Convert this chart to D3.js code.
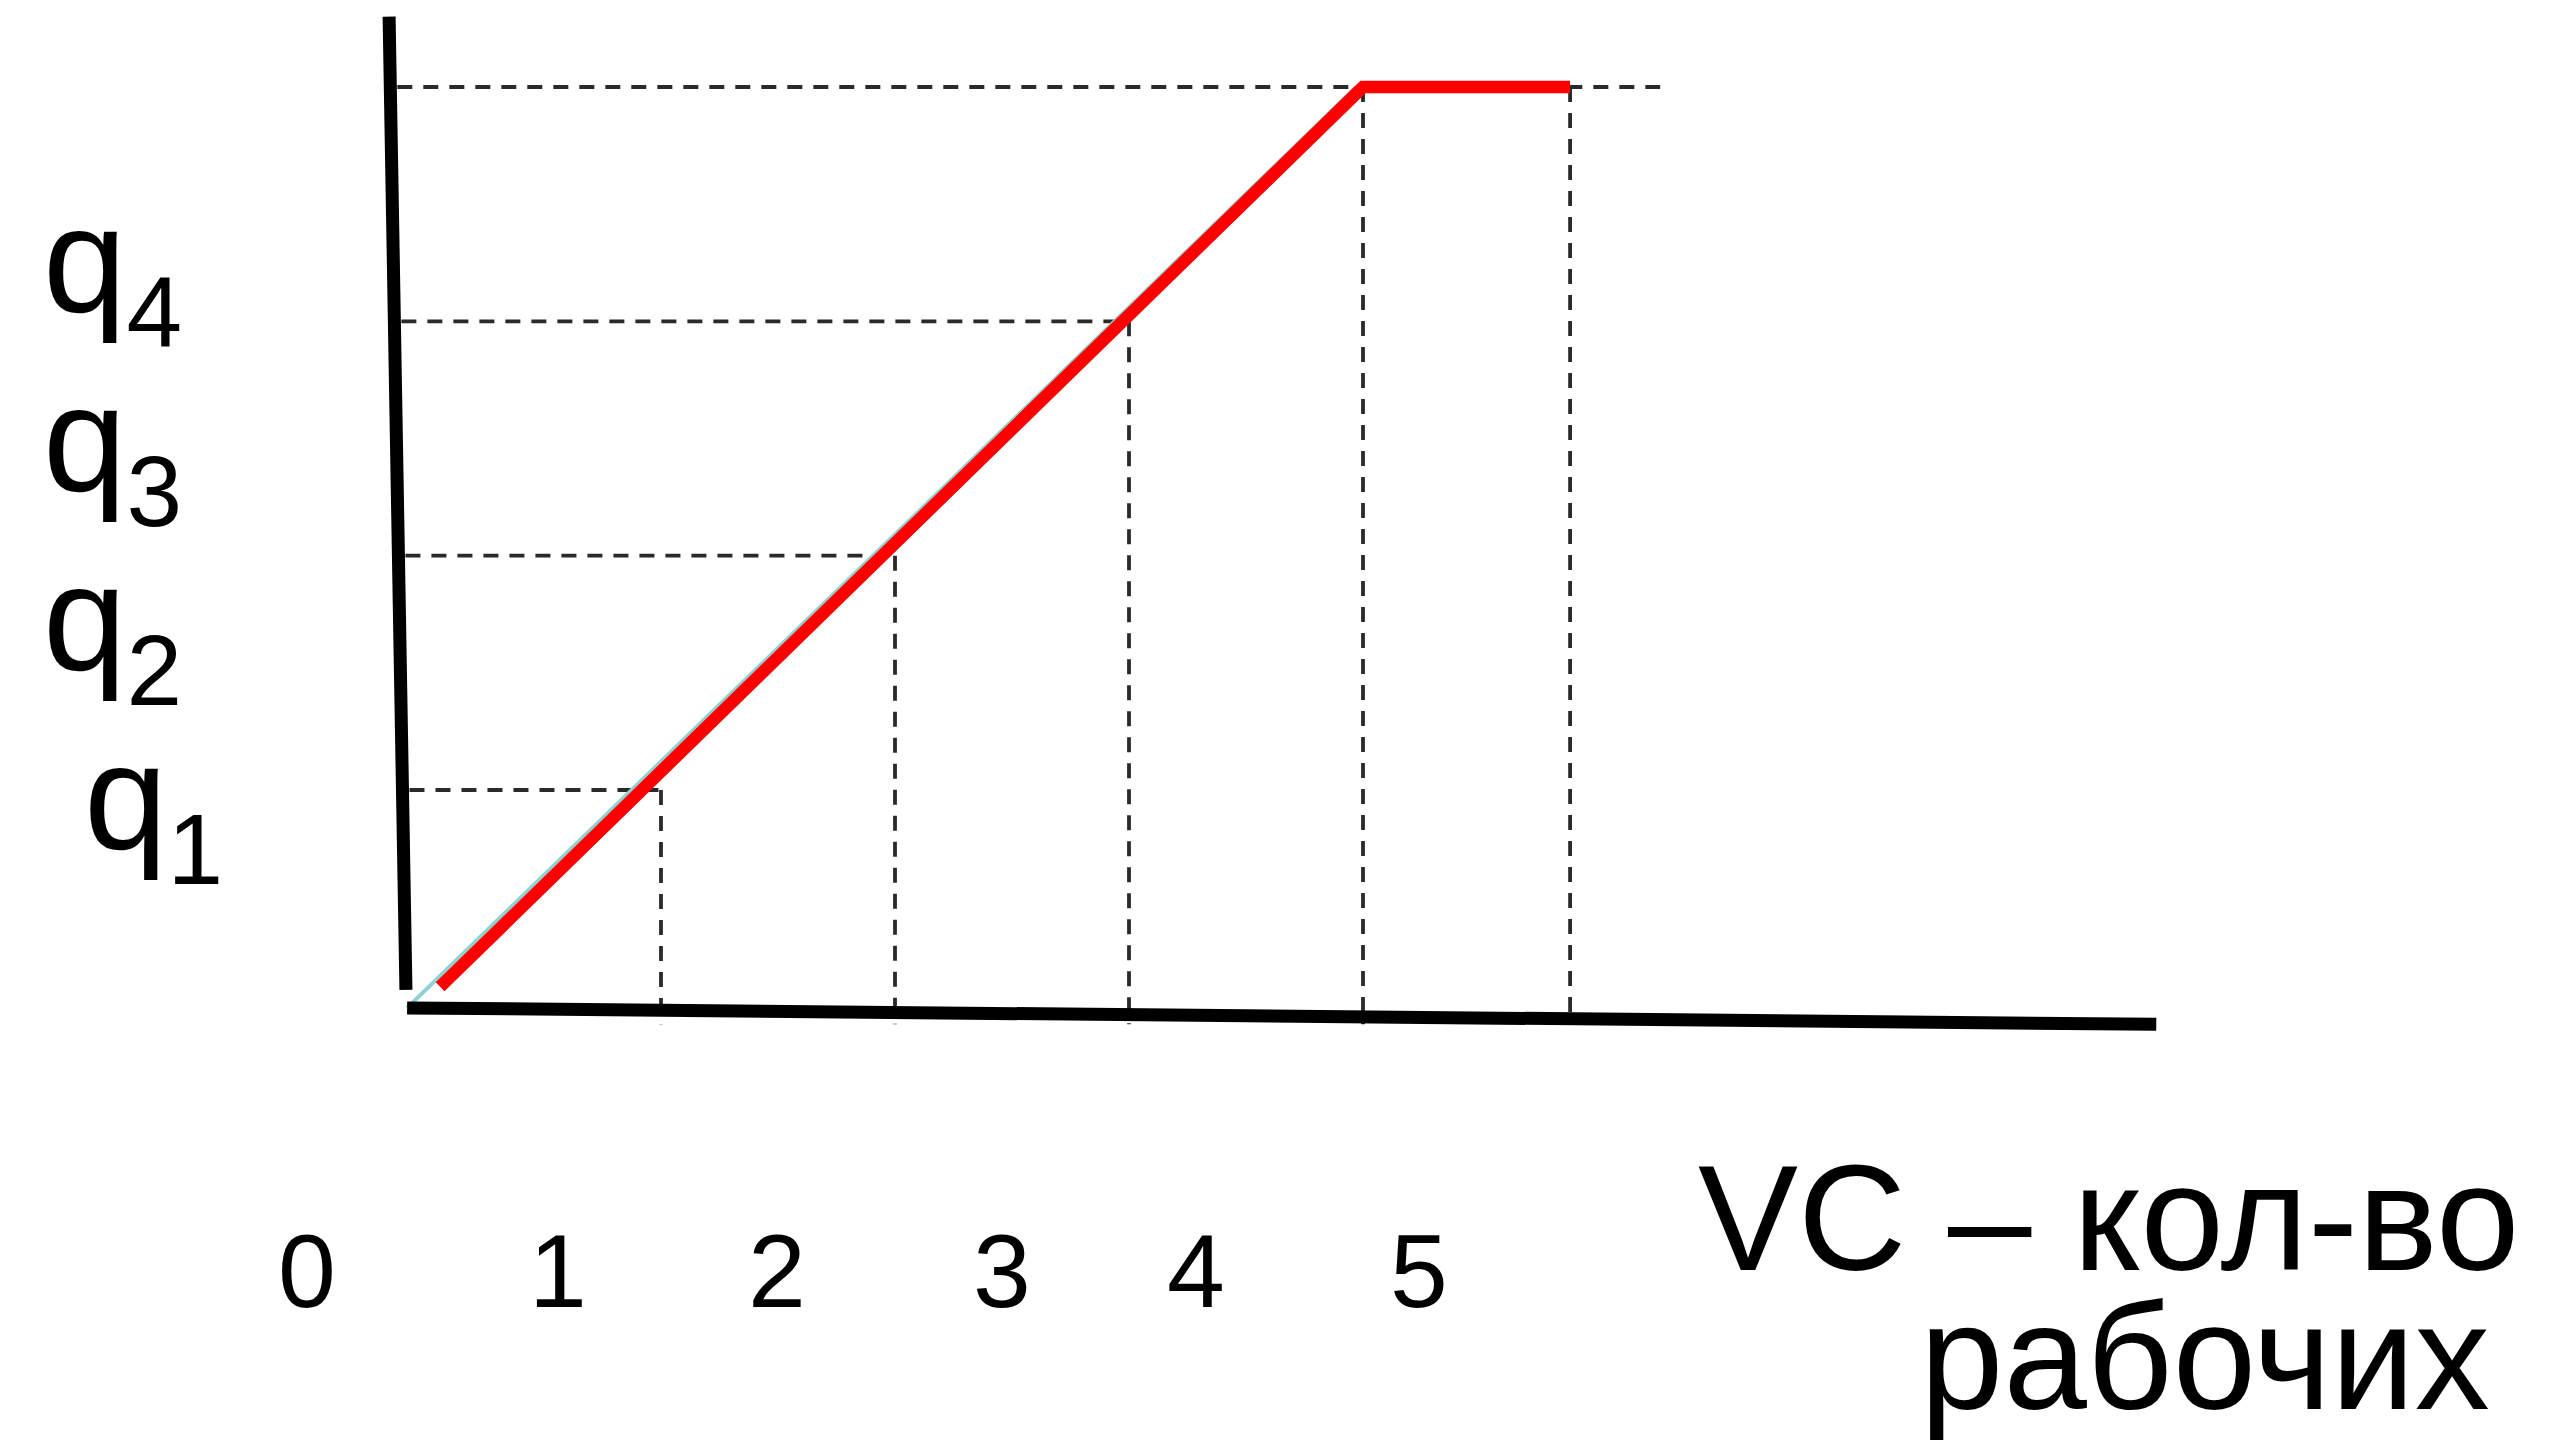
<!DOCTYPE html>
<html>
<head>
<meta charset="utf-8">
<script src="https://cdn.jsdelivr.net/npm/d3@7/dist/d3.min.js"></script>
<style>
  html, body { margin: 0; padding: 0; background: #ffffff; }
  svg { display: block; }
  text { font-family: "Liberation Sans", Arial, sans-serif; fill: #000; }
</style>
</head>
<body>
<div id="chart"></div>
<script>
// ---------------- DATA ----------------
const workerTicks = ["0", "1", "2", "3", "4", "5"];          // x tick labels
const outputLabels = ["1", "2", "3", "4"];                    // q subscripts
const outputLevels = [1, 2, 3, 4];                            // q1..q4 (y of dashed guide lines)
const guideEnds = [1, 2, 3, 5.27];                            // how far each horizontal guide runs (x)
const dropX = [1, 2, 3, 4, 4.885];                            // x of vertical drop lines
const dropTop = [1, 2, 3, 4, 4];                              // y where each drop line starts
const prodX = [0.056, 4, 4.885];                              // production curve (red)
const prodY = [0.16, 4, 4];
const traceX = [-0.085, 3.97];                                // faint cyan trace under the curve
const traceY = [0.07, 4.0];

// ---------------- LAYOUT ----------------
const W = 2572, H = 1441;
const x = d3.scaleLinear().domain([0, 4]).range([427, 1363]);
const y = d3.scaleLinear().domain([0, 4]).range([1024.3, 87]);
const yAxisPts = [[-0.162, 4.30], [-0.09, 0.147]];
const xAxisPts = [[-0.085, 0.07], [7.39, 0.0]];
const tickLabelX = d3.scaleLinear().domain([0, 1, 2, 3, 4, 5]).range([307, 558, 777, 1002, 1196, 1419]);
const qBaseline = d3.scaleLinear().domain([1, 4]).range([849, 312]);
const qLeft = [84, 43, 43, 43];

const svg = d3.select("#chart").append("svg")
  .attr("width", W).attr("height", H)
  .attr("viewBox", `0 0 ${W} ${H}`);
svg.append("rect").attr("width", W).attr("height", H).attr("fill", "#fff");

const line = d3.line().x(d => x(d[0])).y(d => y(d[1]));

// y-axis pixel x at a given pixel y (axis is slightly slanted)
const ya0 = [x(yAxisPts[0][0]), y(yAxisPts[0][1])];
const ya1 = [x(yAxisPts[1][0]), y(yAxisPts[1][1])];
const axisXAt = py => ya0[0] + (py - ya0[1]) * (ya1[0] - ya0[0]) / (ya1[1] - ya0[1]);

// horizontal dashed guides
const guides = svg.append("g")
  .attr("stroke", "#2a2a2a").attr("stroke-width", 3.8)
  .attr("stroke-dasharray", "15,11").attr("fill", "none");
outputLevels.forEach((lv, i) => {
  const py = y(lv);
  guides.append("line")
    .attr("x1", axisXAt(py) + 7).attr("y1", py)
    .attr("x2", x(guideEnds[i])).attr("y2", py);
});
// vertical dashed drop lines
dropX.forEach((dx, i) => {
  guides.append("line")
    .attr("x1", x(dx)).attr("y1", y(dropTop[i]))
    .attr("x2", x(dx)).attr("y2", y(0));
});

// faint cyan trace
svg.append("path")
  .attr("d", line(traceX.map((v, i) => [v, traceY[i]])))
  .attr("stroke", "#8fd2d2").attr("stroke-width", 4).attr("fill", "none");

// red production curve
svg.append("path")
  .attr("d", line(prodX.map((v, i) => [v, prodY[i]])))
  .attr("stroke", "#ff0000").attr("stroke-width", 12.5)
  .attr("stroke-linejoin", "miter").attr("fill", "none");

// axes
svg.append("path").attr("d", line(yAxisPts))
  .attr("stroke", "#000").attr("stroke-width", 13).attr("fill", "none");
svg.append("path").attr("d", line(xAxisPts))
  .attr("stroke", "#000").attr("stroke-width", 13).attr("fill", "none");

// q labels
outputLevels.forEach((lv, i) => {
  const t = svg.append("text")
    .attr("x", qLeft[i]).attr("y", qBaseline(lv))
    .attr("font-size", 150);
  t.append("tspan").text("q");
  t.append("tspan").attr("font-size", 100).attr("dy", 35).text(outputLabels[i]);
});

// x tick labels
svg.append("g").selectAll("text").data(workerTicks).join("text")
  .attr("x", (d, i) => tickLabelX(i))
  .attr("y", 1307)
  .attr("text-anchor", "middle")
  .attr("font-size", 104)
  .text(d => d);

// axis title
svg.append("text").attr("x", 1698).attr("y", 1270).attr("font-size", 150).text("VC – кол-во");
svg.append("text").attr("x", 1920).attr("y", 1409).attr("font-size", 150).text("рабочих");
</script>
</body>
</html>
